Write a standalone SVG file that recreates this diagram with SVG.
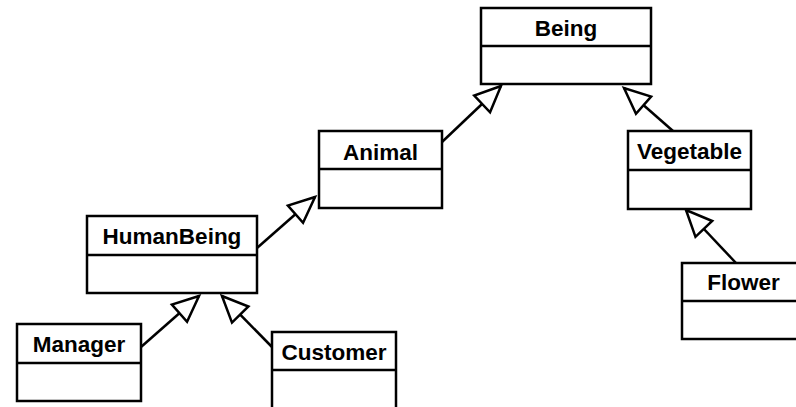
<svg xmlns="http://www.w3.org/2000/svg" width="796" height="407" viewBox="0 0 796 407">
  <style>
    .box { fill: #ffffff; stroke: #000000; stroke-width: 2.5; }
    .div { stroke: #000000; stroke-width: 2.5; }
    .name { font-family: "Liberation Sans", Arial, sans-serif; font-weight: bold; font-size: 22.5px; fill: #000000; text-anchor: middle; }
    .gen { fill: none; stroke: #000000; stroke-width: 2.5; marker-end: url(#hollow); }
  </style>
  <defs>
    <!-- hollow triangle for generalization -->
    <marker id="hollow" markerUnits="userSpaceOnUse" viewBox="-28 -14 30 28" markerWidth="30" markerHeight="28" refX="0" refY="0" orient="auto" overflow="visible">
      <path d="M0,0 L-26,-11.5 L-26,11.5 Z" fill="#ffffff" stroke="#000000" stroke-width="2.5" stroke-linejoin="miter"/>
    </marker>
  </defs>
  <rect width="796" height="407" fill="#ffffff"/>

  <g id="connectors">
    <path class="gen" d="M442,142 L501,86"/>
    <path class="gen" d="M257,248 L315,197"/>
    <path class="gen" d="M141,347 L199,296"/>
    <path class="gen" d="M272,347 L222,296"/>
    <path class="gen" d="M673,131 L624,88"/>
    <path class="gen" d="M736,263 L686,210"/>
  </g>

  <g id="being">
    <rect class="box" x="481" y="8" width="170" height="76"/>
    <line class="div" x1="481" y1="46" x2="651" y2="46"/>
    <text class="name" x="566" y="36">Being</text>
  </g>
  <g id="animal">
    <rect class="box" x="319" y="131" width="123" height="77"/>
    <line class="div" x1="319" y1="169" x2="442" y2="169"/>
    <text class="name" x="380.5" y="160">Animal</text>
  </g>
  <g id="vegetable">
    <rect class="box" x="628" y="131" width="123" height="78"/>
    <line class="div" x1="628" y1="170" x2="751" y2="170"/>
    <text class="name" x="689.5" y="159">Vegetable</text>
  </g>
  <g id="humanbeing">
    <rect class="box" x="87" y="216" width="170" height="77"/>
    <line class="div" x1="87" y1="255" x2="257" y2="255"/>
    <text class="name" x="172" y="244">HumanBeing</text>
  </g>
  <g id="flower">
    <rect class="box" x="682" y="263" width="123" height="76"/>
    <line class="div" x1="682" y1="301" x2="805" y2="301"/>
    <text class="name" x="743.5" y="290">Flower</text>
  </g>
  <g id="manager">
    <rect class="box" x="17" y="324" width="124" height="77"/>
    <line class="div" x1="17" y1="363" x2="141" y2="363"/>
    <text class="name" x="79" y="352">Manager</text>
  </g>
  <g id="customer">
    <rect class="box" x="272" y="332" width="124" height="80"/>
    <line class="div" x1="272" y1="370" x2="396" y2="370"/>
    <text class="name" x="334" y="360">Customer</text>
  </g>
</svg>
